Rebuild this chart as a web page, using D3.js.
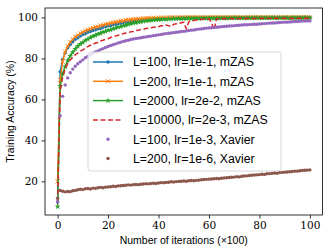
<!DOCTYPE html>
<html>
<head>
<meta charset="utf-8">
<script src="https://cdn.jsdelivr.net/npm/d3@7"></script>
<style>
  body { margin: 0; background: #fff; }
  svg { display: block; }
  .tick text { font-family: "DejaVu Serif", "Liberation Serif", serif; font-size: 10.5px; }
  .lbl { font-family: "Liberation Sans", "DejaVu Sans", sans-serif; font-size: 10.5px; }
  .leg text { font-family: "Liberation Sans", "DejaVu Sans", sans-serif; font-size: 12.3px; }
</style>
</head>
<body>
<svg width="332" height="252"></svg>
<script>
const svg = d3.select("svg");

// iterations (x100)
const iters = d3.range(0, 101);

const labels = [
  "L=100, lr=1e-1, mZAS",
  "L=200, lr=1e-1, mZAS",
  "L=2000, lr=2e-2, mZAS",
  "L=10000, lr=2e-3, mZAS",
  "L=100, lr=1e-3, Xavier",
  "L=200, lr=1e-6, Xavier"
];

const accBlue = [10, 73.5, 79.5, 82.8, 85.2, 86.8, 88.1, 89.3, 90.0, 90.9,
  91.6, 92.0, 92.8, 93.1, 93.6, 94.0, 94.5, 94.6, 95.2, 95.4,
  95.9, 96.0, 96.5, 96.6, 97.0, 97.1, 97.5, 97.6, 97.9, 98.0,
  98.2, 98.3, 98.5, 98.5, 98.8, 98.8, 99.0, 99.0, 99.2, 99.1,
  99.3, 99.3, 99.4, 99.4, 99.5, 99.5, 99.6, 99.5, 99.6, 99.7,
  99.6, 99.7, 99.8, 99.7, 99.8, 99.8, 99.7, 99.9, 99.8, 99.8,
  99.9, 99.8, 99.9, 99.8, 99.9, 99.9, 99.8, 99.9, 100, 99.9,
  99.9, 99.8, 100, 99.9, 99.9, 100, 99.9, 99.9, 100, 99.9,
  100, 99.9, 99.9, 100, 99.9, 100, 100, 99.9, 100, 99.9,
  100, 100, 99.9, 100, 100, 99.9, 100, 100, 100, 99.9, 100];

const accOrange = [20, 69.5, 78.5, 83.2, 86.0, 88.0, 89.4, 90.6, 91.3, 92.2,
  92.8, 93.5, 93.9, 94.5, 94.8, 95.3, 95.5, 96.0, 96.2, 96.7,
  96.8, 97.3, 97.4, 97.8, 97.9, 98.3, 98.3, 98.7, 98.7, 99.0,
  99.0, 99.2, 99.3, 99.4, 99.5, 99.5, 99.7, 99.6, 99.8, 99.7,
  99.8, 99.9, 99.8, 99.9, 99.9, 100, 99.9, 99.9, 100, 100,
  99.9, 100, 100, 100, 99.9, 100, 100, 100, 100, 99.9,
  100, 100, 100, 100, 100, 99.9, 100, 100, 100, 100,
  100, 100, 100, 99.9, 100, 100, 100, 100, 100, 100,
  100, 100, 100, 100, 100, 100, 99.9, 100, 100, 100,
  100, 100, 100, 100, 100, 100, 100, 100, 100, 100, 100];

const accGreen = [7.7, 66.5, 72.5, 76.0, 79.0, 81.2, 83.0, 84.6, 85.9, 87.0,
  87.8, 88.8, 89.4, 90.2, 90.8, 91.3, 91.9, 92.3, 92.9, 93.2,
  93.7, 94.0, 94.5, 94.8, 95.3, 95.5, 96.0, 96.2, 96.7, 96.9,
  97.3, 97.4, 97.8, 97.9, 98.2, 98.3, 98.5, 98.6, 98.8, 98.9,
  99.0, 99.0, 99.2, 99.1, 99.3, 99.3, 99.4, 99.4, 99.5, 99.4,
  99.5, 99.5, 99.6, 99.5, 99.6, 99.6, 99.5, 99.6, 99.7, 99.6,
  99.6, 99.7, 99.6, 99.7, 99.6, 99.7, 99.7, 99.6, 99.7, 99.7,
  99.8, 99.7, 99.7, 99.8, 99.7, 99.7, 99.8, 99.7, 99.8, 99.8,
  99.7, 99.8, 99.8, 99.7, 99.8, 99.8, 99.8, 99.7, 99.8, 99.8,
  99.8, 99.8, 99.7, 99.8, 99.8, 99.8, 99.8, 99.8, 99.8, 99.8, 99.8];

const accRed = [10, 64, 71, 75.0, 77.5, 79.3, 80.5, 81.8, 82.6, 83.6,
  84.2, 85.0, 85.8, 86.4, 86.9, 87.5, 87.8, 88.5, 88.9, 89.3,
  89.6, 90.2, 90.5, 91.0, 91.3, 91.8, 92.0, 92.4, 92.6, 93.0,
  93.1, 93.6, 93.7, 94.1, 94.2, 94.6, 94.7, 95.0, 95.2, 95.3,
  95.5, 95.9, 96.0, 96.3, 96.0, 95.6, 96.6, 96.9, 97.1, 97.4,
  97.6, 94.5, 97.9, 98.3, 98.5, 98.8, 98.9, 99.0, 99.2, 99.2,
  99.3, 97.5, 94.0, 99.3, 99.4, 99.4, 99.5, 99.4, 99.5, 99.5,
  99.4, 99.5, 99.5, 99.6, 99.5, 99.5, 99.6, 99.5, 99.5, 99.6,
  99.6, 99.5, 99.6, 99.6, 99.5, 99.6, 99.6, 99.6, 99.5, 99.6,
  99.6, 99.6, 99.6, 99.5, 99.6, 99.6, 99.6, 99.6, 99.6, 99.6, 99.6];

const accPurple = [10, 52, 61.5, 67, 70.5, 73, 74.8, 76.2, 77.4, 78.4,
  79.3, 80.3, 81.0, 81.8, 82.5, 83.1, 83.7, 84.3, 84.8, 85.3,
  85.8, 86.3, 86.7, 87.1, 87.5, 87.9, 88.3, 88.6, 88.9, 89.2,
  89.5, 89.7, 89.9, 90.1, 90.3, 90.5, 90.7, 90.9, 91.1, 91.3,
  91.5, 91.7, 91.9, 92.1, 92.3, 92.4, 92.6, 92.8, 92.9, 93.1,
  93.2, 93.4, 93.6, 93.8, 93.9, 94.1, 94.3, 94.4, 94.6, 94.8,
  94.9, 95.0, 95.1, 95.2, 95.3, 95.5, 95.6, 95.7, 95.8, 95.9,
  96.0, 96.1, 96.2, 96.3, 96.4, 96.4, 96.5, 96.6, 96.7, 96.7,
  96.8, 96.9, 97.0, 97.1, 97.2, 97.3, 97.3, 97.4, 97.5, 97.6,
  97.7, 97.7, 97.8, 97.9, 98.0, 98.0, 98.1, 98.2, 98.2, 98.3, 98.3];

const accBrown = [11.8, 15.6, 15.2, 14.9, 15.1, 15.0, 15.4, 15.6, 15.9, 16.2,
  16.0, 16.4, 16.5, 16.3, 16.7, 16.6, 16.9, 17.1, 16.9, 17.2,
  17.3, 17.4, 17.6, 17.5, 17.8, 17.9, 18.0, 18.1, 18.3, 18.2,
  18.4, 18.5, 18.4, 18.6, 18.7, 18.9, 18.8, 19.0, 19.1, 19.0,
  19.2, 19.4, 19.3, 19.5, 19.6, 19.8, 19.7, 19.9, 20.0, 20.1,
  20.2, 20.1, 20.3, 20.4, 20.3, 20.5, 20.6, 20.8, 20.9, 21.0,
  21.1, 21.2, 21.3, 21.4, 21.3, 21.5, 21.7, 21.8, 21.9, 22.0,
  22.1, 22.3, 22.2, 22.5, 22.6, 22.7, 22.9, 23.0, 23.1, 23.2,
  23.3, 23.5, 23.4, 23.7, 23.8, 23.9, 24.1, 24.0, 24.3, 24.4,
  24.5, 24.6, 24.7, 24.8, 25.0, 25.0, 25.2, 25.3, 25.4, 25.5, 25.6];

const xTicks = [0, 20, 40, 60, 80, 100];
const yTicks = [20, 40, 60, 80, 100];

const series = [
  { name: labels[0], values: accBlue, color: "#1f77b4", line: true, marker: "dot" },
  { name: labels[1], values: accOrange, color: "#ff7f0e", line: true, marker: "x" },
  { name: labels[2], values: accGreen, color: "#2ca02c", line: true, marker: "star" },
  { name: labels[3], values: accRed, color: "#d62728", line: true, dash: "5,2.5", marker: null },
  { name: labels[4], values: accPurple, color: "#9467bd", line: false, marker: "dot" },
  { name: labels[5], values: accBrown, color: "#8c564b", line: false, marker: "dot" }
];

const margin = { left: 45, right: 9.5, top: 8, bottom: 37 };
const W = 332, H = 252;

const x = d3.scaleLinear().domain([-5, 105]).range([margin.left, W - margin.right]);
const y = d3.scaleLinear().domain([3.6, 104.6]).range([H - margin.bottom, margin.top]);

const line = d3.line().x((d, i) => x(iters[i])).y(d => y(d));

function drawMarker(g, type, color) {
  if (type === "dot") {
    g.append("circle").attr("r", 1.7).attr("fill", color);
  } else if (type === "x") {
    g.append("path").attr("d", "M-2.1,-2.1L2.1,2.1M-2.1,2.1L2.1,-2.1")
      .attr("stroke", color).attr("stroke-width", 1).attr("fill", "none");
  } else if (type === "star") {
    g.append("path").attr("d", d3.symbol(d3.symbolStar, 11)()).attr("fill", color);
  }
}

const plot = svg.append("g");

series.forEach(s => {
  if (s.line) {
    plot.append("path")
      .datum(s.values)
      .attr("d", line)
      .attr("fill", "none")
      .attr("stroke", s.color)
      .attr("stroke-width", 1.5)
      .attr("stroke-dasharray", s.dash || null);
  }
  if (s.marker) {
    plot.append("g").selectAll("g")
      .data(s.values)
      .join("g")
      .attr("transform", (d, i) => "translate(" + x(iters[i]) + "," + y(d) + ")")
      .each(function () { drawMarker(d3.select(this), s.marker, s.color); });
  }
});

// axes
svg.append("g")
  .attr("transform", "translate(0," + (H - margin.bottom) + ")")
  .call(d3.axisBottom(x).tickValues(xTicks).tickSize(3.5).tickPadding(3.5).tickSizeOuter(0))
  .call(g => g.select(".domain").remove());

svg.append("g")
  .attr("transform", "translate(" + margin.left + ",0)")
  .call(d3.axisLeft(y).tickValues(yTicks).tickSize(3.5).tickPadding(3.5).tickSizeOuter(0))
  .call(g => g.select(".domain").remove());

svg.selectAll(".tick line").attr("stroke-width", 0.8);
svg.selectAll(".tick text").attr("fill", "#000");

svg.append("rect")
  .attr("x", margin.left).attr("y", margin.top)
  .attr("width", W - margin.left - margin.right)
  .attr("height", H - margin.top - margin.bottom)
  .attr("fill", "none").attr("stroke", "#000").attr("stroke-width", 0.8);

svg.append("text").attr("class", "lbl")
  .attr("x", (margin.left + W - margin.right) / 2).attr("y", 244)
  .attr("text-anchor", "middle")
  .text("Number of iterations (×100)");

svg.append("text").attr("class", "lbl")
  .attr("transform", "translate(14," + (margin.top + H - margin.bottom) / 2 + ") rotate(-90)")
  .attr("text-anchor", "middle")
  .text("Training Accuracy (%)");

// legend
const leg = svg.append("g").attr("class", "leg");
leg.append("rect")
  .attr("x", 88).attr("y", 52).attr("width", 193).attr("height", 119)
  .attr("rx", 2.5)
  .attr("fill", "#fff").attr("fill-opacity", 0.8)
  .attr("stroke", "#cccccc").attr("stroke-width", 0.8);

series.forEach((s, i) => {
  const cy = 62 + i * 19.3;
  const row = leg.append("g");
  if (s.line) {
    row.append("line")
      .attr("x1", 93).attr("x2", 123).attr("y1", cy).attr("y2", cy)
      .attr("stroke", s.color).attr("stroke-width", 1.5)
      .attr("stroke-dasharray", s.dash || null);
  }
  if (s.marker) {
    drawMarker(row.append("g").attr("transform", "translate(108," + cy + ")"), s.marker, s.color);
  }
  row.append("text")
    .attr("x", 133).attr("y", cy).attr("dy", "0.36em")
    .text(s.name);
});
</script>
</body>
</html>
